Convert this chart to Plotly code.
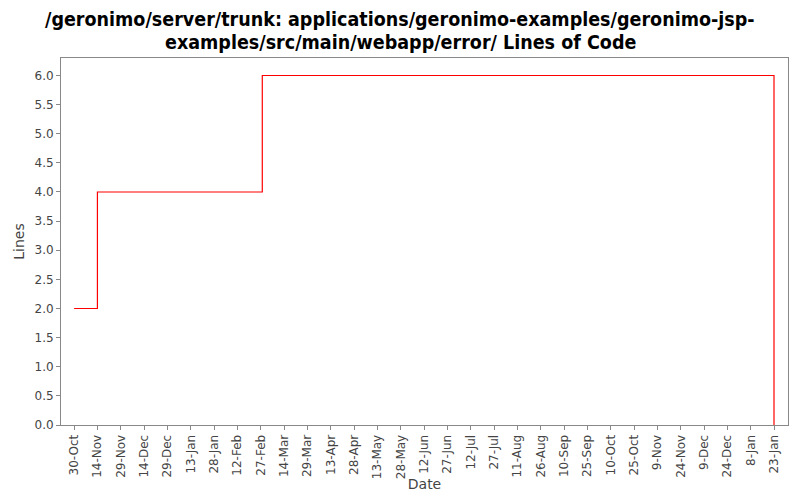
import plotly.graph_objects as go
from datetime import date, timedelta

dates = ["2005-10-30", "2005-11-14", "2006-02-28", "2007-01-23"]
lines = [2, 4, 6, 0]

tick_start = date(2005, 10, 30)
tick_dates = [tick_start + timedelta(days=15 * i) for i in range(31)]
tick_vals = [d.isoformat() for d in tick_dates]
tick_text = [f"{d.day}-{d.strftime('%b')}" for d in tick_dates]

y_ticks = [i * 0.5 for i in range(13)]

title_lines = [
    "/geronimo/server/trunk: applications/geronimo-examples/geronimo-jsp-",
    "examples/src/main/webapp/error/ Lines of Code",
]

fig = go.Figure()
fig.add_trace(go.Scatter(
    x=dates, y=lines, mode="lines",
    line=dict(color="#ff0000", width=1.2, shape="hv"),
    showlegend=False,
))

# page body has an 8px margin, so the figure is laid out at 792x492
L, R, T, B, W, H = 53, 12, 50, 75, 792, 492
title_font = dict(family="DejaVu Sans Condensed, DejaVu Sans", size=19.5, color="black", weight="bold")
title_x = (392 - L) / (W - L - R)
for i, t in enumerate(title_lines):
    fig.add_annotation(
        text=t, xref="paper", yref="paper", x=title_x, xanchor="center",
        y=1, yshift=T - (11 + 23 * i), yanchor="middle",
        showarrow=False, font=title_font, borderpad=0,
    )

fig.update_layout(
    width=W, height=H,
    paper_bgcolor="white", plot_bgcolor="white",
    margin=dict(l=L, r=R, t=T, b=B),
    font=dict(family="DejaVu Sans", color="#444444"),
)
fig.update_xaxes(
    type="date", automargin=False,
    range=["2005-10-21 14:00", "2007-02-01 00:00"],
    tickmode="array", tickvals=tick_vals, ticktext=tick_text,
    tickangle=-90, tickfont=dict(size=12, color="#444444"),
    ticks="outside", ticklen=4, tickcolor="#888888",
    showgrid=False, zeroline=False,
    showline=True, linecolor="#888888", linewidth=1, mirror=True,
    title=dict(text="Date", font=dict(size=14, color="#444444"), standoff=0),
)
fig.update_yaxes(
    range=[0, 6.3], automargin=False,
    tickmode="array", tickvals=y_ticks, ticktext=[f"{v:.1f}" for v in y_ticks],
    tickfont=dict(size=12, color="#444444"),
    ticks="outside", ticklen=4, tickcolor="#888888",
    showgrid=False, zeroline=False,
    showline=True, linecolor="#888888", linewidth=1, mirror=True,
    title=dict(text="Lines", font=dict(size=14, color="#444444"), standoff=6),
)

fig.write_html("out.html")
